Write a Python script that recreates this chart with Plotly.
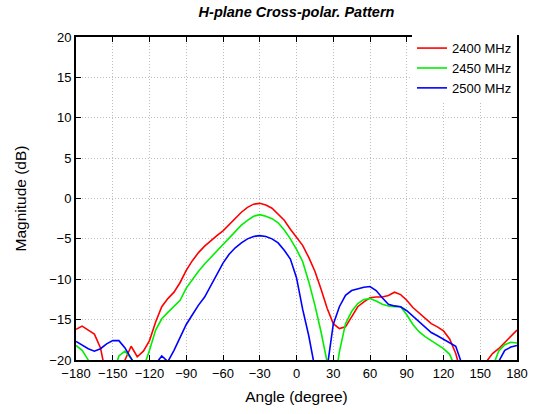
import plotly.graph_objects as go

angles = list(range(-180, 181, 5))

mag_2400 = [-16.2, -15.8, -16.3, -16.8, -18.5, -22, -26, -24, -20, -18.3, -19.6, -18.9, -17.6,
            -15.3, -13.4, -12.4, -11.6, -10.4, -8.9, -7.7, -6.7, -5.9, -5.2, -4.6, -4.0, -3.2,
            -2.4, -1.7, -1.1, -0.7, -0.6, -0.8, -1.2, -1.9, -2.7, -3.8, -4.8, -5.8, -7.3, -9.0,
            -11.2, -13.6, -15.5, -16.1, -15.9, -14.6, -13.4, -12.8, -12.3, -12.2, -12.2, -12.0,
            -11.6, -11.9, -12.6, -13.5, -14.2, -14.8, -15.5, -15.9, -16.4, -17.4, -19.2, -22,
            -25, -26, -24, -20.2, -19.2, -18.6, -17.8, -17.0, -16.3]

mag_2450 = [-18.2, -18.8, -20.0, -22, -24, -25, -22, -19.5, -18.9, -19.8, -22, -21, -18.8,
            -16.3, -14.9, -14.1, -13.3, -12.6, -11.1, -10.0, -9.0, -8.1, -7.3, -6.5, -5.6, -4.8,
            -4.0, -3.3, -2.7, -2.2, -2.0, -2.2, -2.5, -3.0, -3.9, -5.0, -6.3, -7.8, -10.3, -13.2,
            -16.5, -20.2, -24, -19.0, -15.5, -14.0, -13.0, -12.5, -12.4, -12.7, -13.1, -13.3,
            -13.4, -13.4, -14.4, -15.6, -16.5, -17.1, -17.6, -18.1, -18.6, -19.3, -21, -24,
            -26, -27, -25, -23, -21, -18.9, -18.1, -17.8, -17.9]

mag_2500 = [-17.7, -18.2, -18.6, -18.9, -18.6, -18.0, -17.6, -17.6, -18.5, -19.8, -21, -22, -21,
            -20.5, -19.5, -20.2, -18.8, -17.2, -15.6, -14.4, -13.2, -12.2, -10.8, -9.4, -8.0,
            -6.9, -6.1, -5.5, -5.0, -4.7, -4.6, -4.7, -5.0, -5.5, -6.4, -7.5, -9.8, -13.7, -17.0,
            -21, -25, -21, -15.6, -13.4, -12.0, -11.4, -11.2, -11.0, -10.9, -11.4, -12.3, -13.1,
            -13.3, -13.4, -13.9, -14.6, -15.3, -16.0, -16.6, -17.0, -17.4, -17.9, -18.3, -20.5,
            -24, -26, -25, -23, -21.5, -20.2, -18.8, -18.4, -18.2]

series_names = ["2400 MHz", "2450 MHz", "2500 MHz"]
series_colors = ["#ff0000", "#00ee00", "#0000ff"]
x_ticks = list(range(-180, 181, 30))
y_ticks = list(range(-20, 21, 5))

fig = go.Figure()
for name, vals, col in zip(series_names, [mag_2400, mag_2450, mag_2500], series_colors):
    fig.add_trace(go.Scatter(x=angles, y=vals, mode="lines", name=name,
                             line=dict(color=col, width=1.6)))

axis_common = dict(
    showline=True, linecolor="black", linewidth=2, mirror="ticks",
    ticks="inside", ticklen=5, tickcolor="black", tickwidth=1,
    showgrid=True, gridcolor="#bdbdbd", griddash="1px,2px", gridwidth=1,
    zeroline=False, tickfont=dict(size=13, color="black"), automargin=False,
)

fig.update_layout(
    width=533, height=414, autosize=False,
    margin=dict(l=76, r=16, t=37, b=54),
    paper_bgcolor="white", plot_bgcolor="white",
    font=dict(family="Liberation Sans, Arial, sans-serif", color="black"),
    title=dict(text="<b><i>H-plane Cross-polar. Pattern</i></b>", x=0.5, xref="paper",
               y=0.971, yref="container", yanchor="middle", xanchor="center",
               font=dict(size=14.5, color="black"), automargin=False),
    showlegend=True,
    legend=dict(x=1, y=1.012, xanchor="right", yanchor="top", xref="paper", yref="paper",
                bgcolor="white", font=dict(size=13, color="black"),
                tracegroupgap=0, itemwidth=30),
)
fig.update_xaxes(range=[-180, 180], tickvals=x_ticks,
                 title=dict(text="Angle (degree)", font=dict(size=15.5), standoff=12),
                 **axis_common)
fig.update_yaxes(range=[-20, 20], tickvals=y_ticks,
                 title=dict(text="Magnitude (dB)", font=dict(size=15.5), standoff=19),
                 **axis_common)

fig.write_html("out.html", config={"displayModeBar": False},
               post_script="document.body.style.margin='0';document.body.style.padding='0';")
